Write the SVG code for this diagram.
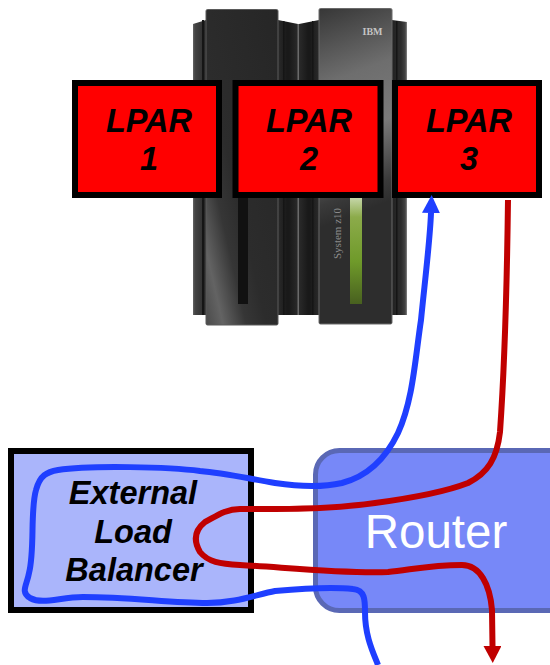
<svg xmlns="http://www.w3.org/2000/svg" width="550" height="665" viewBox="0 0 550 665">
<style>
.lpar{fill:#ff0000;stroke:#000;stroke-width:6}
.lbl{font-family:"Liberation Sans",Arial,sans-serif;font-weight:bold;font-style:italic;font-size:32.500px;fill:#000;text-anchor:middle}
.conn{fill:none;stroke-width:6;stroke-linejoin:round}
.blue{stroke:#1f3fff}
.red{stroke:#c00000}
.rib{fill:#151515}
</style>
<defs>
<marker id="arrB" markerUnits="userSpaceOnUse" markerWidth="20" markerHeight="20" refX="0" refY="9" orient="auto"><path d="M0 0L18 9L0 18Z" fill="#1f3fff"/></marker>
<marker id="arrR" markerUnits="userSpaceOnUse" markerWidth="20" markerHeight="20" refX="0" refY="9" orient="auto"><path d="M0 0L17 9L0 18Z" fill="#c00000"/></marker>
<linearGradient id="gL" x1="1" y1="0" x2="0" y2="1"><stop offset="0" stop-color="#262626"/><stop offset=".58" stop-color="#2c2c2c"/><stop offset=".72" stop-color="#363636"/><stop offset=".88" stop-color="#636363"/><stop offset="1" stop-color="#4a4a4a"/></linearGradient>
<linearGradient id="gR" gradientUnits="userSpaceOnUse" x1="319" y1="10" x2="392" y2="200"><stop offset="0" stop-color="#383838"/><stop offset=".35" stop-color="#6e6e6e"/><stop offset=".62" stop-color="#7a7a7a"/><stop offset=".9" stop-color="#3a3a3a"/><stop offset="1" stop-color="#2d2d2d"/></linearGradient>
<linearGradient id="gS" x1="0" y1="0" x2="1" y2="0"><stop offset="0" stop-color="#666"/><stop offset=".15" stop-color="#444"/><stop offset=".7" stop-color="#333"/><stop offset="1" stop-color="#222"/></linearGradient>
<linearGradient id="gS2" x1="0" y1="0" x2="1" y2="0"><stop offset="0" stop-color="#222"/><stop offset=".6" stop-color="#2c2c2c"/><stop offset=".88" stop-color="#444"/><stop offset="1" stop-color="#888"/></linearGradient>
<linearGradient id="gM" x1="0" y1="0" x2="1" y2="0"><stop offset="0" stop-color="#2a2a2a"/><stop offset=".45" stop-color="#191919"/><stop offset=".55" stop-color="#191919"/><stop offset="1" stop-color="#2a2a2a"/></linearGradient>
<linearGradient id="gG" x1="0" y1="0" x2="0" y2="1"><stop offset="0" stop-color="#c5d6a8"/><stop offset=".18" stop-color="#8cab4a"/><stop offset=".6" stop-color="#6f9a2a"/><stop offset="1" stop-color="#48601f"/></linearGradient>
</defs>
<g id="mainframe">
<path d="M193 24L206 20V315H193Z" fill="url(#gS)"/>
<rect x="202" y="20" width="2" height="295" class="rib"/>
<path d="M278 20L298 24V315H278Z" fill="url(#gM)"/>
<path d="M299 24L319 20V315H299Z" fill="url(#gM)"/>
<rect x="283" y="21" width="1.500" height="294" class="rib"/>
<rect x="312" y="21" width="1.500" height="294" class="rib"/>
<rect x="297.500" y="24" width="1.500" height="291" fill="#6a6a6a"/>
<path d="M392 20L407 22V315H392Z" fill="url(#gS2)"/>
<rect x="396" y="21" width="1.500" height="294" class="rib"/>
<rect x="206" y="9.500" width="72" height="315.500" rx="1.500" fill="url(#gL)" stroke="#5a5a5a" stroke-width="1"/>
<rect x="319" y="8.500" width="73" height="315.500" rx="1.500" fill="url(#gR)" stroke="#6a6a6a" stroke-width="1"/>
<rect x="238" y="198" width="10" height="106" fill="#111"/>
<rect x="350" y="198" width="12" height="106" fill="url(#gG)"/>
<text transform="translate(341 259) rotate(-90)" font-family="Liberation Serif,serif" font-size="11" fill="#8a8a8a">System z10</text>
<text x="372.500" y="35" font-family="Liberation Serif,serif" font-weight="bold" font-size="10" text-anchor="middle" fill="#c4c4c4">IBM</text>
</g>
<g id="router">
<rect x="315.500" y="450.500" width="260" height="160" rx="24" fill="#7788f8" stroke="#5a68b5" stroke-width="5"/>
<text x="436" y="548" font-family="Liberation Sans,Arial,sans-serif" font-size="47.500" fill="#fff" text-anchor="middle">Router</text>
</g>
<g id="load-balancer">
<rect x="11" y="451" width="240" height="159" fill="#aab5fb" stroke="#000" stroke-width="6"/>
<text class="lbl" x="133" y="504">External</text>
<text class="lbl" x="133" y="543">Load</text>
<text class="lbl" x="134" y="581">Balancer</text>
</g>
<g id="lpar1">
<rect class="lpar" x="75" y="83" width="144" height="112"/>
<text class="lbl" x="149" y="132">LPAR</text>
<text class="lbl" x="149" y="170">1</text>
</g>
<g id="lpar2">
<rect class="lpar" x="235.500" y="83" width="145" height="112"/>
<text class="lbl" x="309" y="132">LPAR</text>
<text class="lbl" x="309" y="170">2</text>
</g>
<g id="lpar3">
<rect class="lpar" x="395" y="83" width="144" height="112"/>
<text class="lbl" x="469" y="132">LPAR</text>
<text class="lbl" x="469" y="170">3</text>
</g>
<g id="connectors">
<path class="conn blue" marker-end="url(#arrB)" d="M378 665C372 650 365 635 365 612C365 600 365 590 353 589C335 587 308 588 275 591C255 595 235 603 207 603C170 603 130 597 83 597C60 597 43 605 30 598C20 592 27 585 29 573C35 550 30 510 36 490C40 475 47 472 58 470C90 465 170 467 200 471C225 473 245 478 275 483C295 486 320 488 342 483C365 477 385 460 398 433C413 400 415 360 421 320C425 280 430 240 431 213"/>
<path class="conn red" marker-end="url(#arrR)" d="M508 200C507 280 505 360 500 432C497 458 488 473 468 483C450 490 420 497 375 503C340 508 300 509 275 509L240 509C225 509 215 517 205 522C195 530 193 540 200 552C208 562 220 564 240 565C280 567 345 574 388 572C410 570 430 565 462 565C480 565 490 585 492 610L492.500 646"/>
</g>
</svg>
